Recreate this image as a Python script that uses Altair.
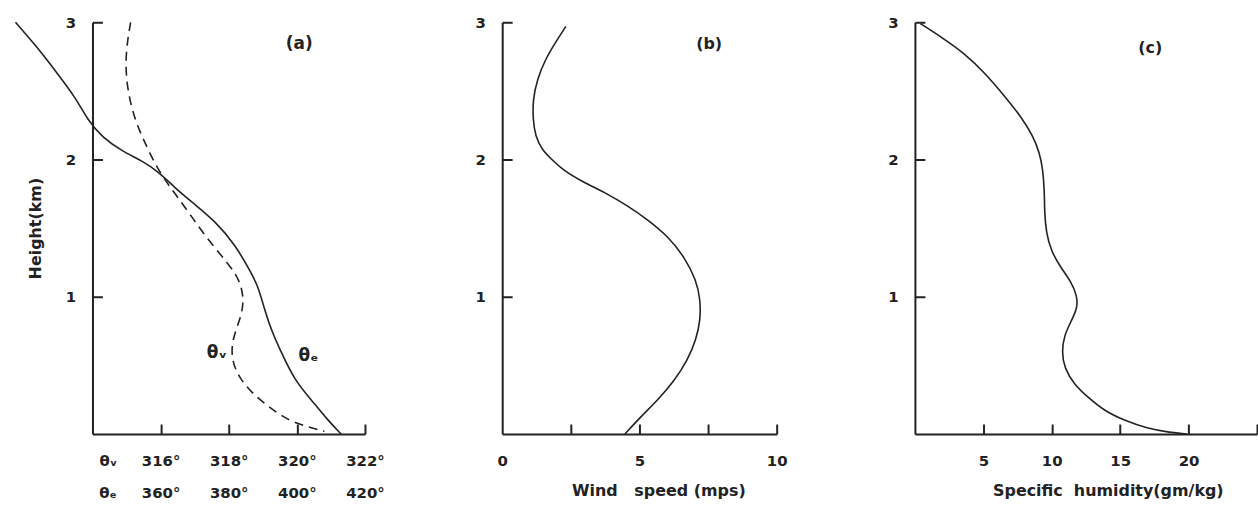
import altair as alt
import pandas as pd

# ---------------- data ----------------
# Panel (a): virtual potential temperature (dashed) and equivalent potential temperature (solid)
theta_v_height = [3.00, 2.78, 2.55, 2.30, 2.11, 1.91, 1.75, 1.58, 1.41, 1.24, 1.12, 0.97,
                  0.83, 0.68, 0.54, 0.42, 0.30, 0.20, 0.10, 0.05, 0.02]
theta_v_value = [315.12, 314.97, 314.99, 315.22, 315.56, 315.95, 316.43, 316.92, 317.41,
                 317.99, 318.33, 318.46, 318.33, 318.09, 318.09, 318.28, 318.67, 319.16,
                 319.74, 320.33, 320.81]
theta_e_height = [3.00, 2.83, 2.64, 2.45, 2.29, 2.16, 2.06, 1.99, 1.91, 1.79, 1.67, 1.55,
                  1.38, 1.17, 1.07, 0.90, 0.75, 0.59, 0.39, 0.25, 0.10, 0.00]
theta_e_value = [317.4, 323.4, 329.3, 335.1, 338.5, 342.9, 348.8, 354.6, 359.5, 364.3,
                 370.2, 376.0, 381.9, 386.7, 388.7, 390.6, 392.6, 395.5, 399.4, 404.2,
                 409.1, 413.0]

# Panel (b): wind speed
wind_height = [2.97, 2.85, 2.73, 2.58, 2.44, 2.29, 2.17, 2.07, 2.00, 1.93, 1.84, 1.76,
               1.66, 1.56, 1.44, 1.29, 1.12, 0.98, 0.83, 0.69, 0.54, 0.39, 0.25, 0.13, 0.00]
wind_speed = [2.32, 1.93, 1.57, 1.27, 1.12, 1.12, 1.21, 1.45, 1.81, 2.17, 2.90, 3.74,
              4.59, 5.31, 6.04, 6.64, 7.07, 7.22, 7.22, 7.07, 6.76, 6.28, 5.68, 5.07, 4.47]

# Panel (c): specific humidity
hum_height = [2.99, 2.89, 2.77, 2.63, 2.46, 2.31, 2.17, 2.05, 1.93, 1.76, 1.62, 1.47,
              1.33, 1.21, 1.11, 1.01, 0.92, 0.82, 0.72, 0.60, 0.48, 0.36, 0.27, 0.17,
              0.10, 0.04, 0.01, 0.00]
hum_value = [0.40, 1.97, 3.67, 5.12, 6.57, 7.78, 8.63, 9.11, 9.35, 9.47, 9.47, 9.59,
             9.96, 10.68, 11.41, 11.84, 11.89, 11.41, 10.92, 10.73, 10.92, 11.65, 12.62,
             13.82, 15.28, 16.97, 18.66, 19.88]

# Annotations
ann_a_text = ["(a)", "θᵥ", "θₑ"]
ann_a_x = [320.07, 317.65, 320.34]
ann_a_y = [2.84, 0.59, 0.57]

# Tick labels
y_ticks = [1, 2, 3]
tv_ticks = [316, 318, 320, 322]
te_ticks = [360, 380, 400, 420]
wind_labels = [0, 5, 10]
wind_ticks = [2.5, 5, 7.5, 10]
hum_labels = [5, 10, 15, 20]
hum_ticks = [5, 10, 15, 20, 25]

# ---------------- style ----------------
FONT = "DejaVu Sans"
INK = "#222222"
H = 414
WA, WB, WC = 274, 276, 344
LW = 1.6
LFS = 15      # label font size
TFS = 16      # title font size
FW = "bold"
INTERP = "basis"

ysc = alt.Scale(domain=[0, 3], nice=False, zero=False)


def left_axis(title=None, title_pad=22):
    kw = dict(orient="left", values=y_ticks, ticks=False, tickSize=0, labelPadding=17,
              domain=True, domainColor=INK, domainWidth=2, grid=False, labelFont=FONT,
              labelFontSize=LFS, labelFontWeight=FW, labelColor=INK, labelFlush=False,
              format="d")
    if title:
        kw.update(title=title, titleFont=FONT, titleFontSize=TFS, titleFontWeight=FW,
                  titleColor=INK, titlePadding=title_pad)
    else:
        kw.update(title=None)
    return alt.Axis(**kw)


def inner_y_ticks(width):
    return alt.Axis(orient="right", offset=-width, values=y_ticks, labels=False, domain=False,
                    ticks=True, tickSize=10, tickWidth=2, tickColor=INK, grid=False, title=None)


def inner_x_ticks(values):
    return alt.Axis(orient="top", offset=-H, values=values, labels=False, domain=False,
                    ticks=True, tickSize=10, tickWidth=2, tickColor=INK, grid=False, title=None)


# ---------------- panel (a) ----------------
df_v = pd.DataFrame({"h": theta_v_height, "t": theta_v_value, "i": range(len(theta_v_value))})
df_e = pd.DataFrame({"h": theta_e_height, "t": theta_e_value, "i": range(len(theta_e_value))})
df_ann_a = pd.DataFrame({"t": ann_a_x, "h": ann_a_y, "label": ann_a_text})

tv_scale = alt.Scale(domain=[314, 322], nice=False, zero=False)
te_scale = alt.Scale(domain=[340, 420], nice=False, zero=False)

line_v = alt.Chart(df_v).mark_line(
    color=INK, strokeWidth=LW, strokeDash=[9, 6], interpolate=INTERP, clip=False
).encode(
    x=alt.X("t:Q", scale=tv_scale, axis=alt.Axis(
        orient="bottom", values=[314.45] + tv_ticks,
        labelExpr="datum.value < 315 ? 'θᵥ' : format(datum.value, 'd') + '°'",
        ticks=False, tickSize=0, domain=True, domainColor=INK, domainWidth=2, grid=False,
        labelPadding=20, labelFont=FONT, labelFontSize=LFS, labelFontWeight=FW,
        labelColor=INK, labelFlush=False, labelOverlap=False, title=None)),
    y=alt.Y("h:Q", scale=ysc, axis=left_axis("Height(km)", 22)),
    order="i:Q",
)

line_e = alt.Chart(df_e).mark_line(
    color=INK, strokeWidth=LW, interpolate=INTERP, clip=False
).encode(
    x=alt.X("t:Q", scale=te_scale, axis=alt.Axis(
        orient="bottom", offset=32, values=[344.4] + te_ticks,
        labelExpr="datum.value < 350 ? 'θₑ' : format(datum.value, 'd') + '°'",
        ticks=False, tickSize=0, domain=False, grid=False,
        labelPadding=20, labelFont=FONT, labelFontSize=LFS, labelFontWeight=FW,
        labelColor=INK, labelFlush=False, labelOverlap=False, title=None)),
    y=alt.Y("h:Q", scale=ysc, axis=inner_y_ticks(WA)),
    order="i:Q",
)

text_a = alt.Chart(df_ann_a).mark_text(
    font=FONT, fontSize=17, fontWeight=FW, color=INK, clip=False
).encode(
    x=alt.X("t:Q", scale=tv_scale, axis=inner_x_ticks(tv_ticks)),
    y=alt.Y("h:Q", scale=ysc, axis=None),
    text="label:N",
)

panel_a = alt.layer(line_v, line_e, text_a).resolve_scale(
    x="independent"
).resolve_axis(x="independent", y="independent").properties(width=WA, height=H)

# ---------------- panel (b) ----------------
df_w = pd.DataFrame({"h": wind_height, "s": wind_speed, "i": range(len(wind_speed))})
df_ann_b = pd.DataFrame({"s": [7.54], "h": [2.84], "label": ["(b)"]})
ws_scale = alt.Scale(domain=[0, 10], nice=False, zero=False)

line_w = alt.Chart(df_w).mark_line(
    color=INK, strokeWidth=LW, interpolate=INTERP, clip=False
).encode(
    x=alt.X("s:Q", scale=ws_scale, axis=alt.Axis(
        orient="bottom", values=wind_labels, format="d",
        ticks=False, tickSize=0, domain=True, domainColor=INK, domainWidth=2, grid=False,
        labelPadding=20, labelFont=FONT, labelFontSize=LFS, labelFontWeight=FW,
        labelColor=INK, labelFlush=False, labelOverlap=False,
        title="Wind\u00a0\u00a0\u00a0speed (mps)", titleFont=FONT, titleFontSize=TFS,
        titleFontWeight=FW, titleColor=INK, titlePadding=14, titleX=157)),
    y=alt.Y("h:Q", scale=ysc, axis=left_axis()),
    order="i:Q",
)

text_b = alt.Chart(df_ann_b).mark_text(font=FONT, fontSize=16, fontWeight=FW, color=INK).encode(
    x=alt.X("s:Q", scale=ws_scale, axis=inner_x_ticks(wind_ticks)),
    y=alt.Y("h:Q", scale=ysc, axis=inner_y_ticks(WB)),
    text="label:N",
)

panel_b = alt.layer(line_w, text_b).resolve_axis(
    x="independent", y="independent"
).properties(width=WB, height=H)

# ---------------- panel (c) ----------------
df_q = pd.DataFrame({"h": hum_height, "q": hum_value, "i": range(len(hum_value))})
df_ann_c = pd.DataFrame({"q": [17.2], "h": [2.81], "label": ["(c)"]})
q_scale = alt.Scale(domain=[0, 25], nice=False, zero=False)

line_q = alt.Chart(df_q).mark_line(
    color=INK, strokeWidth=LW, interpolate=INTERP, clip=False
).encode(
    x=alt.X("q:Q", scale=q_scale, axis=alt.Axis(
        orient="bottom", values=hum_labels, format="d",
        ticks=False, tickSize=0, domain=True, domainColor=INK, domainWidth=2, grid=False,
        labelPadding=20, labelFont=FONT, labelFontSize=LFS, labelFontWeight=FW,
        labelColor=INK, labelFlush=False, labelOverlap=False,
        title="Specific\u00a0\u00a0humidity(gm/kg)", titleFont=FONT, titleFontSize=TFS,
        titleFontWeight=FW, titleColor=INK, titlePadding=14, titleX=194)),
    y=alt.Y("h:Q", scale=ysc, axis=left_axis()),
    order="i:Q",
)

text_c = alt.Chart(df_ann_c).mark_text(font=FONT, fontSize=16, fontWeight=FW, color=INK).encode(
    x=alt.X("q:Q", scale=q_scale, axis=inner_x_ticks(hum_ticks)),
    y=alt.Y("h:Q", scale=ysc, axis=inner_y_ticks(WC)),
    text="label:N",
)

panel_c = alt.layer(line_q, text_c).resolve_axis(
    x="independent", y="independent"
).properties(width=WC, height=H)

chart = alt.hconcat(
    alt.hconcat(panel_a, panel_b, spacing=90), panel_c, spacing=100
).properties(
    padding={"left": 12, "top": 14, "right": 0, "bottom": 0},
    background="white",
).configure_view(stroke=None)

chart.save("out.html", embed_options={"renderer": "svg", "actions": False})
